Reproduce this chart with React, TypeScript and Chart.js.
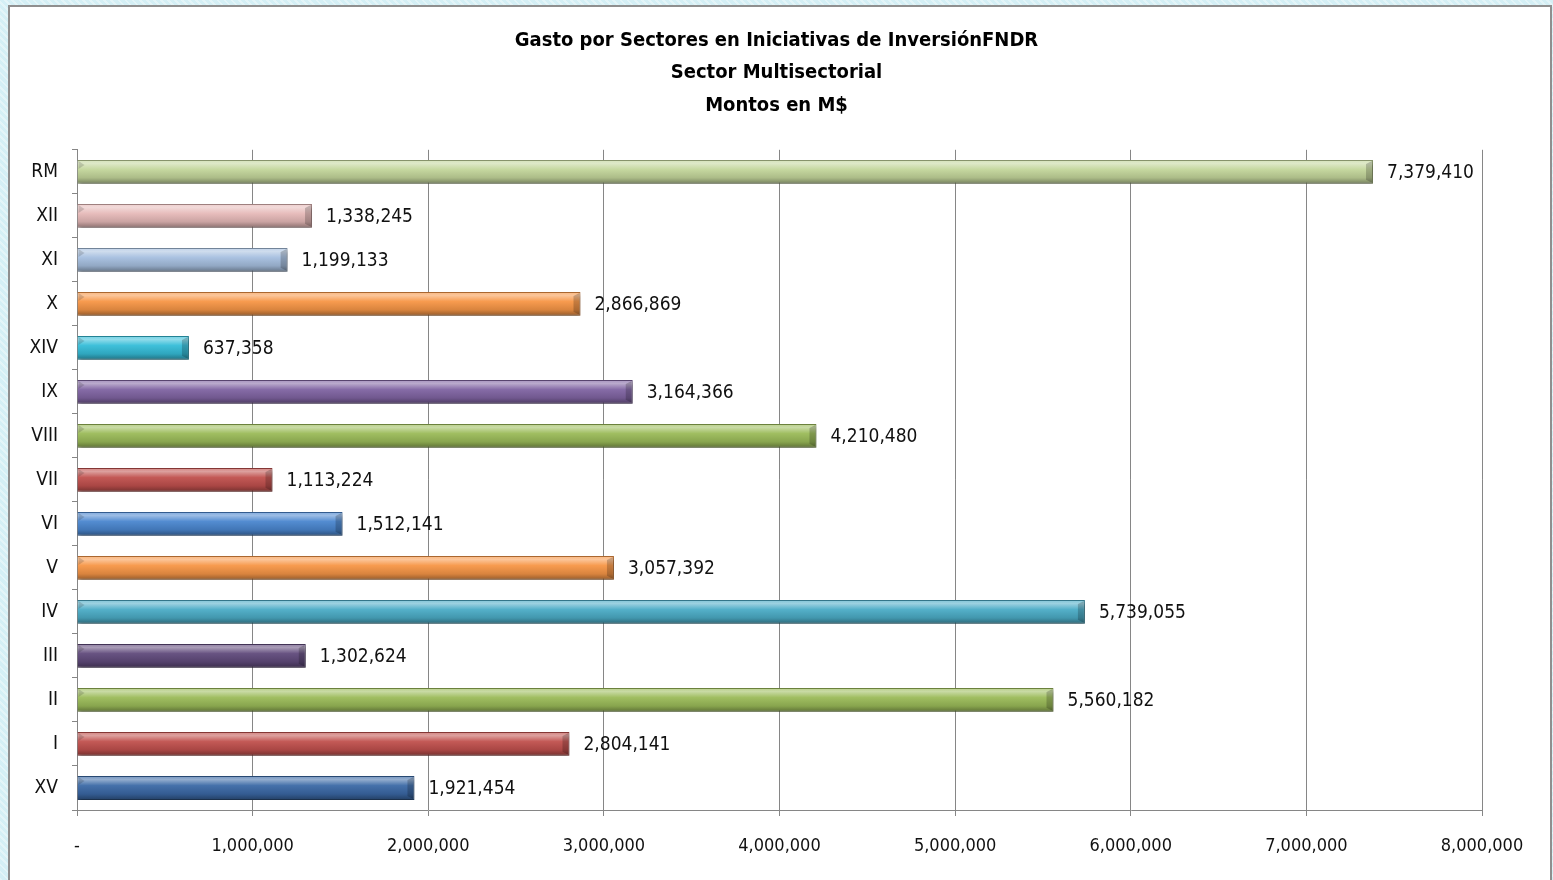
import React, { useEffect, useRef } from "react";
import { Chart, registerables } from "chart.js";

Chart.register(...registerables);

const titleLines = [
  "Gasto por Sectores en Iniciativas de InversiónFNDR",
  "Sector Multisectorial",
  "Montos en M$",
];

const categories = ["RM", "XII", "XI", "X", "XIV", "IX", "VIII", "VII", "VI", "V", "IV", "III", "II", "I", "XV"];

const values = [
  7379410, 1338245, 1199133, 2866869, 637358, 3164366, 4210480, 1113224,
  1512141, 3057392, 5739055, 1302624, 5560182, 2804141, 1921454,
];

const barColors = [
  "#c3d69b", "#e6b9b8", "#a6bfdf", "#f79646", "#35bdd8", "#8064a2", "#9bbb59", "#c0504d",
  "#4a86cf", "#f79646", "#4bacc6", "#604a7b", "#9bbb59", "#c0504d", "#3b69a6",
];

const xMin = 0;
const xMax = 8000000;
const xStep = 1000000;

const FONT = '"Liberation Sans Narrow", "DejaVu Sans Condensed", "Noto Sans", sans-serif';

function hexToRgb(hex: string) {
  const h = hex.replace("#", "");
  return [parseInt(h.slice(0, 2), 16), parseInt(h.slice(2, 4), 16), parseInt(h.slice(4, 6), 16)];
}
function mix(hex: string, target: number, amt: number) {
  const [r, g, b] = hexToRgb(hex);
  const f = (c: number) => Math.round(c + (target - c) * amt);
  return `rgb(${f(r)},${f(g)},${f(b)})`;
}

export default function App() {
  const canvasRef = useRef<HTMLCanvasElement | null>(null);

  useEffect(() => {
    if (!canvasRef.current) return;

    const barDecor = {
      id: "barDecor",
      beforeDatasetsDraw(chart: any) {
        const ctx = chart.ctx;
        ctx.save();
        ctx.shadowColor = "rgba(0,0,0,0.4)";
        ctx.shadowOffsetX = 1;
        ctx.shadowOffsetY = 3;
        ctx.shadowBlur = 4;
      },
      afterDatasetsDraw(chart: any) {
        const ctx = chart.ctx;
        ctx.restore();
        const meta = chart.getDatasetMeta(0);
        meta.data.forEach((bar: any, i: number) => {
          const top = bar.y - bar.height / 2;
          const bottom = bar.y + bar.height / 2;
          const left = bar.base;
          const right = bar.x;
          ctx.save();
          ctx.beginPath();
          ctx.moveTo(right - 7, top + 4);
          ctx.lineTo(right - 1, top + 1);
          ctx.lineTo(right - 1, bottom - 1);
          ctx.lineTo(right - 7, bottom - 4);
          ctx.closePath();
          ctx.fillStyle = "rgba(0,0,0,0.2)";
          ctx.fill();
          ctx.beginPath();
          ctx.moveTo(left + 1, top + 1);
          ctx.lineTo(left + 7, top + 5);
          ctx.lineTo(left + 1, top + 9);
          ctx.closePath();
          ctx.fillStyle = "rgba(0,0,0,0.15)";
          ctx.fill();
          ctx.restore();

          ctx.save();
          ctx.font = `19px ${FONT}`;
          ctx.fillStyle = "#111";
          ctx.textAlign = "left";
          ctx.textBaseline = "middle";
          ctx.fillText(values[i].toLocaleString("en-US"), right + 14, bar.y + 1);
          ctx.restore();
        });
      },
    };

    const chart = new Chart(canvasRef.current, {
      type: "bar",
      data: {
        labels: categories,
        datasets: [
          {
            data: values,
            backgroundColor: (c: any) => {
              const base = barColors[c.dataIndex % barColors.length];
              if (c.type !== "data") return base;
              const chart = c.chart;
              const ys = chart.scales && chart.scales.y;
              if (!ys) return base;
              const y = ys.getPixelForValue(c.dataIndex);
              if (!isFinite(y)) return base;
              const g = chart.ctx.createLinearGradient(0, y - 12, 0, y + 12);
              g.addColorStop(0, mix(base, 255, 0.3));
              g.addColorStop(0.15, mix(base, 255, 0.45));
              g.addColorStop(0.4, mix(base, 255, 0.05));
              g.addColorStop(0.75, mix(base, 0, 0.12));
              g.addColorStop(1, mix(base, 0, 0.4));
              return g;
            },
            borderColor: (c: any) => mix(barColors[(c.dataIndex || 0) % barColors.length], 0, 0.3),
            borderWidth: 1,
            categoryPercentage: 0.54,
            barPercentage: 1.0,
          },
        ],
      },
      options: {
        indexAxis: "y",
        animation: false,
        responsive: false,
        maintainAspectRatio: false,
        layout: { padding: { left: 0, right: 0, top: 0, bottom: 0 } },
        plugins: {
          legend: { display: false },
          tooltip: { enabled: false },
          title: {
            display: true,
            text: titleLines,
            color: "#000",
            font: { family: FONT, size: 20, weight: "bold", lineHeight: 1.63 },
            padding: { top: 24, bottom: 28 },
          },
        },
        scales: {
          x: {
            type: "linear",
            min: xMin,
            max: xMax,
            afterFit: (s: any) => {
              s.height = 70;
              s.paddingRight = 71;
            },
            ticks: {
              stepSize: xStep,
              color: "#111",
              padding: 20,
              font: { family: FONT, size: 18 },
              callback: (v: any) => (Number(v) === 0 ? "-" : Number(v).toLocaleString("en-US")),
            },
            grid: { color: "#868686", lineWidth: 1, tickLength: 6, drawTicks: true },
            border: { display: true, color: "#868686", width: 1 },
          },
          y: {
            type: "category",
            afterFit: (s: any) => {
              s.width = 77;
            },
            ticks: {
              color: "#111",
              padding: 14,
              font: { family: FONT, size: 19 },
            },
            grid: { drawOnChartArea: false, drawTicks: true, tickLength: 5, color: "#868686", offset: true },
            border: { display: true, color: "#868686", width: 1 },
          },
        },
      },
      plugins: [barDecor],
    } as any);

    return () => chart.destroy();
  }, []);

  return (
    <div
      style={{
        position: "fixed",
        left: 0,
        top: 0,
        width: 1553,
        height: 880,
        overflow: "hidden",
        backgroundColor: "#d4eff5",
        backgroundImage:
          "repeating-linear-gradient(45deg, rgba(255,255,255,0.35) 0 2px, rgba(255,255,255,0) 2px 5px)",
      }}
    >
      <div
        style={{
          position: "absolute",
          left: 8,
          top: 5,
          width: 1540,
          height: 900,
          background: "#fff",
          border: "2px solid #8f8f8f",
        }}
      />
      <canvas
        ref={canvasRef}
        width={1553}
        height={880}
        style={{ position: "absolute", left: 0, top: 0, width: 1553, height: 880 }}
      />
    </div>
  );
}
